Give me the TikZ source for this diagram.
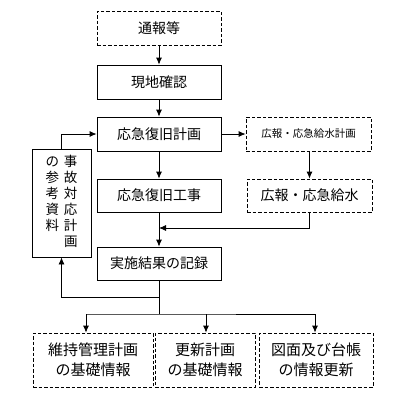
\documentclass[tikz,border=0pt]{standalone}
\usepackage{fontspec}
\usepackage{tikz}
\usetikzlibrary{arrows.meta}
\newfontfamily\jpfont{Noto Sans CJK JP}

\tikzset{
    box/.style={draw,line width=0.8pt,minimum width=124pt,minimum height=34pt,inner sep=0pt,
        font=\jpfont\fontsize{14}{17}\selectfont},
    dbox/.style={box,dash pattern=on 3.5pt off 2pt},
    arr/.style={-{Latex[length=7pt,width=6pt]},line width=0.8pt},
    conn/.style={line width=0.8pt}
}

\begin{document}
\begin{tikzpicture}[x=1pt,y=-1pt]
    \useasboundingbox (0,0) rectangle (401,400);

    % main column
    \node[dbox] (tsuho) at (159,28) {通報等};
    \node[box] (genchi) at (159,82) {現地確認};
    \node[box] (keikaku) at (159,134) {応急復旧計画};
    \node[box,minimum height=33pt] (koji) at (159,195.5) {応急復旧工事};
    \node[box,minimum height=33pt] (kiroku) at (159,263.5) {実施結果の記録};

    % right column
    \node[dbox,minimum width=125pt,font=\jpfont\fontsize{10.5}{12}\selectfont] (kohokei) at (308.5,134) {広報・応急給水計画};
    \node[dbox,minimum width=125pt,minimum height=33pt] (koho) at (309.5,195.5) {広報・応急給水};

    % reference box (vertical text)
    \node[box,minimum width=59pt,minimum height=108pt,font=\jpfont\fontsize{13.5}{15.7}\selectfont] (sanko) at (61.5,203)
        {\renewcommand{\arraystretch}{1}\begin{tabular}{@{}c@{\hspace{5pt}}c@{}}
        の&事\\ 参&故\\ 考&対\\ 資&応\\ 料&計\\ &画
        \end{tabular}};

    % bottom row
    \node[dbox,minimum width=120pt,minimum height=54pt,align=center,font=\jpfont\fontsize{15}{20}\selectfont] (kiso1) at (93,360) {維持管理計画\\の基礎情報};
    \node[dbox,minimum width=100pt,minimum height=54pt,align=center,font=\jpfont\fontsize{15}{20}\selectfont] (kiso2) at (205,360) {更新計画\\の基礎情報};
    \node[dbox,minimum width=114pt,minimum height=54pt,align=center,font=\jpfont\fontsize{15}{20}\selectfont] (joho) at (316,360) {図面及び台帳\\の情報更新};

    % connectors
    \draw[arr] (tsuho) -- (genchi);
    \draw[arr] (genchi) -- (keikaku);
    \draw[arr] (keikaku) -- (kohokei);
    \draw[arr] (keikaku) -- (koji);
    \draw[arr] (kohokei.south -| koho) -- (koho);
    \draw[arr] (koji) -- (kiroku);

    \coordinate (merge) at (159,228);
    \draw[arr] (koho.south) |- (merge);

    \draw[arr] (sanko.north) |- (keikaku.west);

    \coordinate (branch) at (159,297);
    \coordinate (split) at (159,314);
    \draw[conn] (kiroku.south) -- (split);
    \draw[arr] (branch) -| (sanko.south);
    \draw[conn] (86,314) -- (split) -- (315,314);
    \foreach \bx/\bn in {86/kiso1,206/kiso2,315/joho} {
        \draw[arr] (\bx,314) -- (\bx,314 |- \bn.north);
    }
\end{tikzpicture}
\end{document}
